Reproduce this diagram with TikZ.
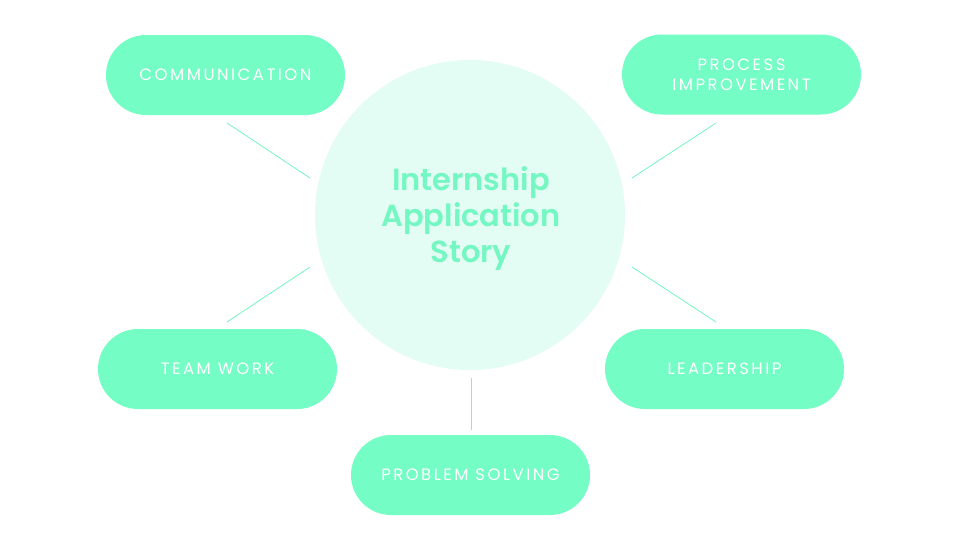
\documentclass[tikz,border=0pt]{standalone}
\usepackage{fontspec}
\setmainfont{Poppins}
\newfontfamily\pilltext[LetterSpace=15]{Poppins}
\newfontfamily\titlefont{Poppins SemiBold}
\definecolor{mint}{HTML}{74FDC4}
\definecolor{pale}{HTML}{E3FDF4}
\definecolor{titlec}{HTML}{74F7C2}
\usetikzlibrary{shapes.misc}
\begin{document}
\begin{tikzpicture}[x=1pt,y=-1pt,
  pill/.style={rounded rectangle, fill=mint, minimum width=239pt, minimum height=80pt, text=white, font=\pilltext\fontsize{16.5}{20}\selectfont, align=center, inner sep=0pt},
  link/.style={draw=titlec, line width=0.8pt}]
\useasboundingbox (0,0) rectangle (960,550);
\fill[white] (0,0) rectangle (960,550);
\node[circle, fill=pale, minimum size=310pt, inner sep=0pt] (hub) at (470,215) {};
\node[text=titlec, font=\titlefont\fontsize{30.5}{36}\selectfont, align=center] (title) at (471,219) {Internship\\Application\\Story};
\node[pill] (comm) at (225.5,75) {COMMUNICATION};
\node[pill] (proc) at (741.5,74.5) {PROCESS\\IMPROVEMENT};
\node[pill] (team) at (217.5,369) {TEAM WORK};
\node[pill] (lead) at (724.5,369) {LEADERSHIP};
\node[pill] (prob) at (470.5,475) {PROBLEM SOLVING};
\coordinate (a1) at (227,123); \coordinate (a2) at (310,178);
\coordinate (b1) at (716,123); \coordinate (b2) at (632,178);
\coordinate (c1) at (227,322); \coordinate (c2) at (310,267);
\coordinate (d1) at (716,322); \coordinate (d2) at (632,267);
\coordinate (e1) at (471,378); \coordinate (e2) at (471,430);
\draw[link] (a1) -- (a2);
\draw[link] (b1) -- (b2);
\draw[link] (c1) -- (c2);
\draw[link] (d1) -- (d2);
\draw[link] (e1) -- (e2);
\end{tikzpicture}
\end{document}
